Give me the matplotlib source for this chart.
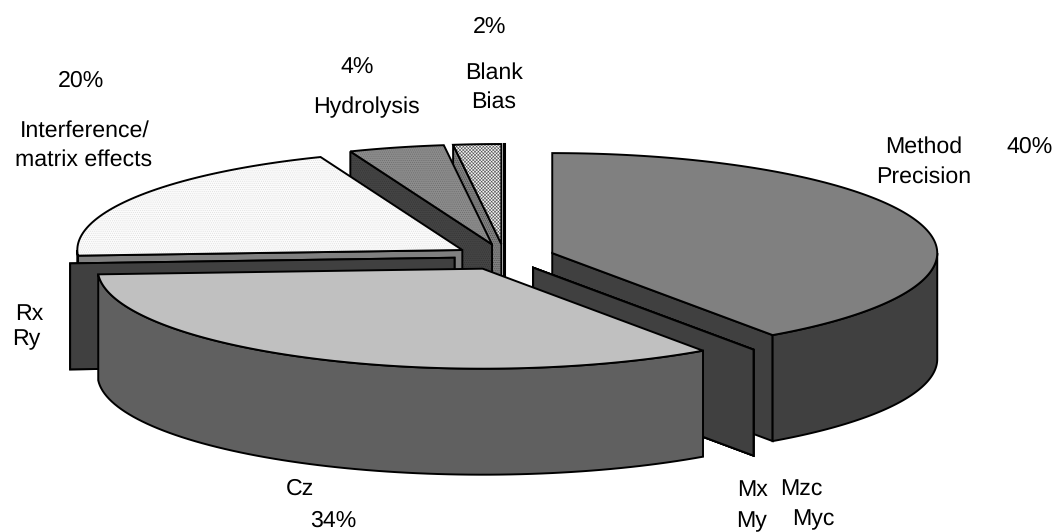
import numpy as np
import matplotlib
matplotlib.use('Agg')
import matplotlib.pyplot as plt
from matplotlib.patches import Polygon

plt.rcParams['font.family'] = ['Liberation Sans', 'DejaVu Sans']
plt.rcParams['hatch.linewidth'] = 0.4
plt.rcParams['text.hinting'] = 'no_hinting'

# Slices, clockwise from the top of the pie
slices = ['Method Precision', 'Mx', 'Mzc', 'My', 'Myc', 'Cz', 'Rx', 'Ry',
          'Interference', 'Hydrolysis', 'Blank', 'Bias']
values = [40.3, 0, 0, 0, 0, 33.8, 0, 0, 19.9, 4.0, 2.0, 0]

top_colors = ['#808080', '#404040', '#404040', '#404040', '#404040', '#c0c0c0',
              '#404040', '#404040', '#fbfbfb', '#8c8c8c', '#f4f4f4', '#404040']
side_colors = ['#404040', '#404040', '#404040', '#404040', '#404040', '#606060',
               '#404040', '#404040', '#808080', '#444444', '#808080', '#404040']
# hatch pattern and its colour for the dithered faces
top_hatch = {'Interference': ('........', '#dddddd'),
             'Hydrolysis': ('........', '#6a6a6a'),
             'Blank': ('xxxxxxxxxx', '#555555')}
side_hatch = {'Hydrolysis': ('........', '#333333'),
              'Blank': ('........', '#444444')}

# back to front
draw_order = ['Bias', 'Blank', 'Hydrolysis', 'Interference', 'Rx', 'Ry',
              'Method Precision', 'Mx', 'Mzc', 'My', 'Myc', 'Cz']

# Pie projection in pixels
cx, cy = 504.5, 257
rx, ry = 385, 100
depth = 106
explode = 0.13


def rim(c, a):
    a = np.radians(a)
    return np.column_stack([c[0] + rx * np.sin(a), c[1] - ry * np.cos(a)])


def extrude(pts):
    # pts plus the same outline moved down by the pie depth
    low = pts[::-1] + [0, depth]
    return np.vstack([pts, low])


def face(pts, color, hatch, z):
    ax.add_patch(Polygon(pts, facecolor=color, edgecolor='none', zorder=z))
    if hatch:
        ax.add_patch(Polygon(pts, facecolor='none', edgecolor=hatch[1], hatch=hatch[0],
                             linewidth=0, zorder=z))
    ax.add_patch(Polygon(pts, facecolor='none', edgecolor='black', linewidth=1.4,
                         joinstyle='miter', zorder=z))


fig = plt.figure(figsize=(10.56, 5.32), dpi=100)
ax = fig.add_axes([0, 0, 1, 1])
ax.set_xlim(0, 1056)
ax.set_ylim(532, 0)
ax.axis('off')

ends = np.cumsum(values) / np.sum(values) * 360
starts = ends - np.array(values) / np.sum(values) * 360

z = 1
for name in draw_order:
    i = slices.index(name)
    a0, a1 = starts[i], ends[i]
    mid = np.radians((a0 + a1) / 2)
    c = (cx + explode * rx * np.sin(mid), cy - explode * ry * np.cos(mid))
    centre = np.array([c])

    # cut faces, only those turned to the viewer
    if -np.cos(np.radians(a0 - 90)) > 1e-6:
        wall = np.vstack([rim(c, [a0]), centre])
        face(extrude(wall), side_colors[i], side_hatch.get(name), z)
        z += 1
    if -np.cos(np.radians(a1 + 90)) > 1e-6:
        wall = np.vstack([rim(c, [a1]), centre])
        face(extrude(wall), side_colors[i], side_hatch.get(name), z)
        z += 1

    # outer wall, front half only
    lo, hi = max(a0, 90), min(a1, 270)
    if hi > lo:
        arc = rim(c, np.linspace(lo, hi, 80))
        face(extrude(arc), side_colors[i], None, z)
        z += 1

    # top face
    if a1 > a0:
        arc = rim(c, np.linspace(a0, a1, 120))
        face(np.vstack([centre, arc]), top_colors[i], top_hatch.get(name), z)
        z += 1

    # slice of zero size at twelve o'clock is seen edge on
    if name == 'Bias':
        p = rim(c, [a0])[0]
        ax.plot([p[0], p[0]], [p[1], c[1] + depth], color='black', lw=2.2, zorder=z)
        z += 1

# label, centre x, baseline y
texts = [
    ('2%', 490, 33), ('Blank', 494, 79), ('Bias', 494, 108),
    ('4%', 357, 74), ('Hydrolysis', 366, 113),
    ('20%', 81, 87), ('Interference/', 84.5, 137), ('matrix effects', 84, 166),
    ('Method', 923.5, 153), ('Precision', 923.5, 183), ('40%', 1030, 153),
    ('Rx', 29.5, 320), ('Ry', 26, 345),
    ('Cz', 300, 495), ('34%', 333, 527),
    ('Mx', 753, 496), ('Mzc', 801, 496), ('My', 752, 527), ('Myc', 813, 525),
]
for label, x, y in texts:
    ax.text(x, y, label, ha='center', va='baseline', fontsize=16.7, color='black', zorder=100)

fig.savefig('out.png', dpi=100)
